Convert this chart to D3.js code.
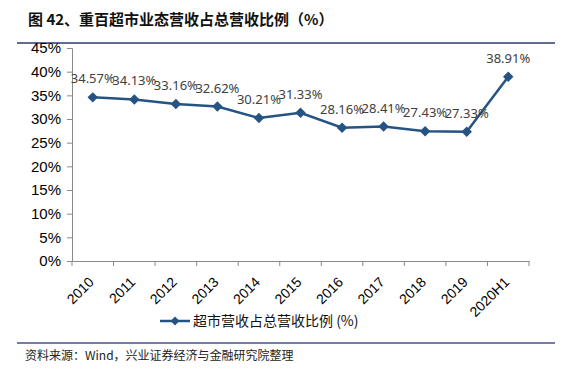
<!DOCTYPE html>
<html>
<head>
<meta charset="utf-8">
<script src="https://cdn.jsdelivr.net/npm/d3@7"></script>
<style>
  body { margin: 0; background: #fff; }
</style>
</head>
<body>
<div id="canvas"></div>
<script>
var years = ["2010", "2011", "2012", "2013", "2014", "2015", "2016", "2017", "2018", "2019", "2020H1"];
var share = [34.57, 34.13, 33.16, 32.62, 30.21, 31.33, 28.16, 28.41, 27.43, 27.33, 38.91];
var yTicks = [0, 5, 10, 15, 20, 25, 30, 35, 40, 45];

const W = 578, H = 377;
const margin = {top: 48, right: 49, bottom: 116, left: 72};
const width = W - margin.left - margin.right;
const height = H - margin.top - margin.bottom;

const root = d3.select("#canvas")
  .append("svg")
    .attr("width", W)
    .attr("height", H);

// title and rules
root.append("text")
    .attr("x", 28).attr("y", 25)
    .attr("font-family", "Noto Sans CJK SC")
    .attr("font-weight", "bold")
    .attr("font-size", 15)
    .attr("fill", "#111")
    .text("图 42、重百超市业态营收占总营收比例（%）");

root.append("line")
    .attr("x1", 17).attr("x2", 555).attr("y1", 43).attr("y2", 43)
    .attr("stroke", "#2e3a6e").attr("stroke-width", 1.5);

root.append("line")
    .attr("x1", 17).attr("x2", 555).attr("y1", 343).attr("y2", 343)
    .attr("stroke", "#4a4f8a").attr("stroke-width", 1.5);

root.append("text")
    .attr("x", 25).attr("y", 360)
    .attr("font-family", "Noto Sans CJK SC")
    .attr("font-size", 12)
    .attr("fill", "#222")
    .text("资料来源：Wind，兴业证券经济与金融研究院整理");

const svg = root.append("g")
    .attr("transform", "translate(" + margin.left + "," + margin.top + ")");

const x = d3.scaleBand()
    .domain(years)
    .range([0, width]);

const y = d3.scaleLinear()
    .domain([0, 45])
    .range([height, 0]);

// Y axis
const yAxis = svg.append("g")
    .call(d3.axisLeft(y).tickValues(yTicks).tickFormat(function(d) { return d + "%"; }).tickSize(5).tickPadding(6));
yAxis.selectAll("text")
    .attr("font-family", "Liberation Sans, Arial")
    .attr("font-size", 15)
    .attr("fill", "#000");

// X axis
const xAxis = svg.append("g")
    .attr("transform", "translate(0," + height + ")")
    .call(d3.axisBottom(x).tickSize(0).tickFormat(""));
xAxis.selectAll(".tick").remove();
xAxis.selectAll("line.xt")
  .data(d3.range(years.length + 1))
  .enter()
  .append("line")
    .attr("x1", function(i) { return i * x.step(); })
    .attr("x2", function(i) { return i * x.step(); })
    .attr("y1", 0).attr("y2", 5)
    .attr("stroke", "#898989");

svg.selectAll(".xlab")
  .data(years)
  .enter()
  .append("text")
    .attr("class", "xlab")
    .attr("text-anchor", "end")
    .attr("font-family", "Liberation Sans, Arial")
    .attr("font-size", 14)
    .attr("fill", "#000")
    .attr("transform", function(d) {
      return "translate(" + (x(d) + x.bandwidth() / 2 + 2) + "," + (height + 22) + ") rotate(-45)";
    })
    .text(function(d) { return d; });

svg.selectAll(".domain, .tick line")
    .attr("stroke", "#898989");

// line
const cx = function(d, i) { return x(years[i]) + x.bandwidth() / 2; };
const line = d3.line()
    .x(cx)
    .y(function(d) { return y(d); });

svg.append("path")
    .datum(share)
    .attr("fill", "none")
    .attr("stroke", "#245384")
    .attr("stroke-width", 2.5)
    .attr("d", line);

svg.selectAll(".pt")
  .data(share)
  .enter()
  .append("path")
    .attr("class", "pt")
    .attr("d", d3.symbol().type(d3.symbolDiamond2).size(70))
    .attr("transform", function(d, i) { return "translate(" + cx(d, i) + "," + y(d) + ")"; })
    .attr("fill", "#245384");

svg.selectAll(".lab")
  .data(share)
  .enter()
  .append("text")
    .attr("class", "lab")
    .attr("x", cx)
    .attr("y", function(d) { return y(d) - 14; })
    .attr("text-anchor", "middle")
    .attr("font-family", "Noto Sans, Open Sans")
    .attr("font-size", 13)
    .attr("fill", "#404040")
    .text(function(d) { return d.toFixed(2) + "%"; });

// legend
const lg = root.append("g").attr("transform", "translate(160,321)");
lg.append("line")
    .attr("x1", 0).attr("x2", 30).attr("y1", 0).attr("y2", 0)
    .attr("stroke", "#245384").attr("stroke-width", 2.5);
lg.append("path")
    .attr("d", d3.symbol().type(d3.symbolDiamond2).size(50))
    .attr("transform", "translate(15,0)")
    .attr("fill", "#245384");
lg.append("text")
    .attr("x", 33).attr("y", 5)
    .attr("font-family", "Noto Sans CJK SC")
    .attr("font-size", 14)
    .attr("fill", "#111")
    .text("超市营收占总营收比例 (%)");
</script>
</body>
</html>
